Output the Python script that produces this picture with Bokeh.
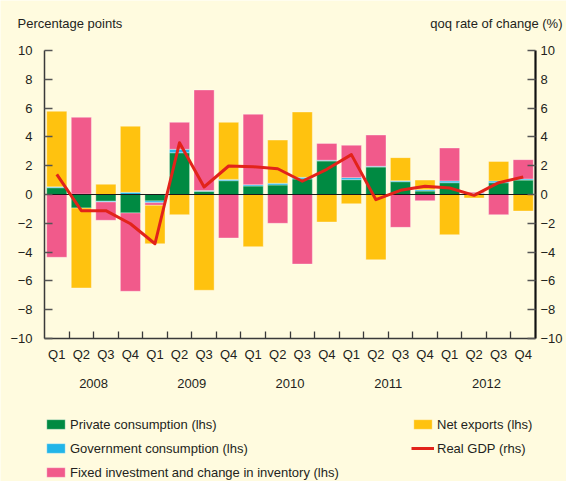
import numpy as np
from bokeh.plotting import figure
from bokeh.models import (Range1d, LinearAxis, FixedTicker, Label,
                          Legend, LegendItem)
from bokeh.embed import file_html
from bokeh.resources import INLINE

# ---------------- data ----------------
quarters = ["Q1", "Q2", "Q3", "Q4"] * 5
years = ["2008", "2009", "2010", "2011", "2012"]

private_consumption = [0.47, -0.94, -0.47, -1.28, -0.45, 2.90, 0.22, 0.96, 0.59, 0.66,
                       1.08, 2.33, 1.03, 1.91, 0.89, 0.24, 0.82, 0.03, 0.82, 1.00]
government_consumption = [0.06, 0.03, -0.05, 0.15, -0.12, 0.24, 0.05, 0.09, 0.09, 0.12,
                          0.11, 0.05, 0.14, 0.05, 0.07, 0.09, 0.12, 0.05, 0.12, 0.08]
fixed_investment = [-4.36, 5.33, -1.27, -5.44, -0.18, 1.87, 6.99, -3.02, 4.89, -2.00,
                    -4.83, 1.17, 2.25, 2.17, -2.28, -0.43, 2.29, 0.08, -1.40, 1.34]
net_exports = [5.25, -5.55, 0.71, 4.59, -2.67, -1.40, -6.65, 3.96, -3.62, 3.00,
               4.54, -1.91, -0.64, -4.53, 1.60, 0.67, -2.79, -0.24, 1.36, -1.15]
real_gdp = [1.40, -1.12, -1.12, -2.03, -3.42, 3.60, 0.52, 1.98, 1.93, 1.79,
            0.92, 1.75, 2.77, -0.36, 0.29, 0.57, 0.45, -0.06, 0.82, 1.22]

series_names = ["Private consumption (lhs)", "Government consumption (lhs)",
                "Fixed investment and change in inventory (lhs)", "Net exports (lhs)"]
gdp_name = "Real GDP (rhs)"
y_ticks = list(range(-10, 11, 2))
y_min, y_max = -10, 10

# ---------------- style / layout ----------------
W, H = 566, 481
PL, PR, PT, PB = 44, 535, 50, 338          # plot-area edges in pixels
BG = "#FFFBDF"
FONT = "Liberation Sans"
TXT = "#231F20"
COLORS = ["#008A42", "#22B5E8", "#F15A8B", "#FFC20F"]
RED = "#E2231A"
FS = "13px"

n = len(quarters)
xc = np.arange(n) + 0.5

# the frame covers the whole canvas; axes are pinned with fixed_location
xu = (PR - PL) / n
yu = (PB - PT) / (y_max - y_min)
x_range = Range1d(-PL / xu, n + (W - PR) / xu)
y_range = Range1d(y_min - (H - PB) / yu, y_max + PT / yu)

p = figure(width=W, height=H, output_backend="svg", toolbar_location=None,
           x_range=x_range, y_range=y_range,
           x_axis_type=None, y_axis_type=None, title=None,
           min_border=0, min_border_left=0, min_border_right=0,
           min_border_top=0, min_border_bottom=0,
           background_fill_color=BG, border_fill_color=BG,
           outline_line_color=None)
p.extra_y_ranges = {"rhs": Range1d(y_range.start, y_range.end)}

tick_style = dict(major_label_text_font=FONT, major_label_text_font_size=FS,
                  major_label_text_color=TXT)

# left axis
yl = LinearAxis(fixed_location=0, bounds=(y_min, y_max),
                ticker=FixedTicker(ticks=y_ticks),
                major_tick_in=8, major_tick_out=0,
                minor_tick_line_color=None,
                major_label_standoff=12,
                axis_line_color="#3A3A3A", axis_line_width=1.5,
                major_tick_line_color="#555555", major_tick_line_width=1.5,
                **tick_style)
p.add_layout(yl, "left")

# right axis
yr = LinearAxis(y_range_name="rhs", fixed_location=n, bounds=(y_min, y_max),
                ticker=FixedTicker(ticks=y_ticks),
                major_tick_in=8, major_tick_out=0,
                minor_tick_line_color=None,
                major_label_standoff=5,
                axis_line_color="#111111", axis_line_width=2.2,
                major_tick_line_color="#555555", major_tick_line_width=1.5,
                **tick_style)
p.add_layout(yr, "right")

# bottom axis: quarter labels at centres, tick marks at boundaries
bounds = list(range(1, n))
xq = LinearAxis(fixed_location=y_min, bounds=(0, n),
                ticker=FixedTicker(ticks=list(xc), minor_ticks=bounds),
                major_label_overrides={float(c): q for c, q in zip(xc, quarters)},
                major_tick_in=0, major_tick_out=0,
                minor_tick_in=7, minor_tick_out=0,
                minor_tick_line_color="#3A3A3A", minor_tick_line_width=1.3,
                axis_line_color="#3A3A3A", axis_line_width=1.5,
                major_label_standoff=8, **tick_style)
p.add_layout(xq, "below")

# year labels
year_pos = [2.0, 6.0, 10.0, 14.0, 18.0]
xy = LinearAxis(fixed_location=y_min, bounds=(0, n),
                ticker=FixedTicker(ticks=year_pos),
                major_label_overrides={yp: y for yp, y in zip(year_pos, years)},
                major_tick_line_color=None, minor_tick_line_color=None,
                axis_line_color=None, major_label_standoff=34, **tick_style)
p.add_layout(xy, "below")

# stacked bars (positive and negative stacks separately)
pos = np.zeros(n)
neg = np.zeros(n)
bar_renderers = []
for vals, col in zip([private_consumption, government_consumption,
                      fixed_investment, net_exports], COLORS):
    v = np.array(vals, dtype=float)
    bottom = np.where(v >= 0, pos, neg)
    top = bottom + v
    pos = np.where(v >= 0, top, pos)
    neg = np.where(v < 0, top, neg)
    r = p.vbar(x=xc, bottom=bottom, top=top, width=0.82,
               fill_color=col, line_color="white", line_alpha=0.35,
               line_width=1)
    bar_renderers.append(r)

# zero line (an axis with no ticks pinned at 0, limited to the plot area)
zero_axis = LinearAxis(fixed_location=0, bounds=(0, n),
                       ticker=FixedTicker(ticks=[]),
                       major_tick_line_color=None, minor_tick_line_color=None,
                       major_label_text_font_size="0px",
                       axis_line_color="#1A1A1A", axis_line_width=1.2)
p.add_layout(zero_axis, "below")

gdp = p.line(x=xc, y=real_gdp, y_range_name="rhs", line_color=RED,
             line_width=3, line_join="round")
gdp.level = "overlay"

# header texts (screen units, origin bottom-left of canvas)
p.add_layout(Label(x=17, y=H - 23, x_units="screen", y_units="screen",
                   text="Percentage points", text_baseline="middle",
                   text_font=FONT, text_font_size=FS, text_color=TXT))
p.add_layout(Label(x=562, y=H - 23, x_units="screen", y_units="screen",
                   text="qoq rate of change (%)", text_baseline="middle",
                   text_align="right",
                   text_font=FONT, text_font_size=FS, text_color=TXT))

# legends
common = dict(orientation="vertical", glyph_width=23, glyph_height=12,
              label_standoff=3, label_height=16, spacing=8, padding=0,
              margin=0, border_line_color=None, background_fill_alpha=0,
              label_text_font=FONT, label_text_font_size=FS,
              label_text_color=TXT)
leg1 = Legend(items=[LegendItem(label=series_names[i], renderers=[bar_renderers[i]])
                     for i in range(3)],
              location=(44, 1), **common)
leg2 = Legend(items=[LegendItem(label=series_names[3], renderers=[bar_renderers[3]]),
                     LegendItem(label=gdp_name, renderers=[gdp])],
              location=(411, 25), **common)
p.add_layout(leg1)
p.add_layout(leg2)

open("out.html", "w").write(file_html(p, INLINE))
